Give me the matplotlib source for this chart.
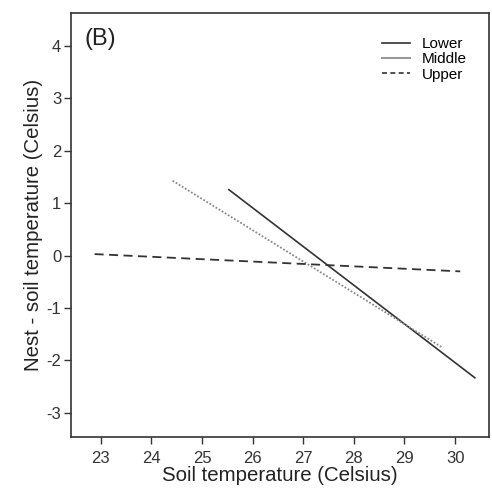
import matplotlib
matplotlib.use("Agg")
import matplotlib.pyplot as plt
from matplotlib.lines import Line2D

plt.rcParams['font.family'] = ['Liberation Sans', 'DejaVu Sans']
plt.rcParams['axes.unicode_minus'] = False

# regression line end points
groups = ["Lower", "Middle", "Upper"]
soil_x = {"Lower": [25.53, 30.39], "Middle": [24.42, 29.76], "Upper": [22.88, 30.10]}
diff_y = {"Lower": [1.26, -2.33], "Middle": [1.43, -1.76], "Upper": [0.03, -0.30]}

xticks = list(range(23, 31))
yticks = list(range(-3, 5))

styles = {
    "Lower": dict(color="#333333", linestyle="-", lw=1.2),
    "Middle": dict(color="#888888", linestyle=(0, (1, 1)), lw=1.3),
    "Upper": dict(color="#333333", linestyle=(0, (5, 3)), lw=1.3),
}

fig = plt.figure(figsize=(4.92, 4.93), dpi=100)
ax = fig.add_axes([0.144, 0.1136, 0.850, 0.860])

for g in groups:
    ax.plot(soil_x[g], diff_y[g], **styles[g])

ax.set_xlim(22.41, 30.67)
ax.set_ylim(-3.46, 4.63)
ax.set_xticks(xticks)
ax.set_yticks(yticks)
ax.tick_params(direction="out", length=5, width=1, labelsize=12, colors="#333333", pad=2)
ax.tick_params(axis="x", pad=5)
for s in ax.spines.values():
    s.set_color("#333333")
    s.set_linewidth(1.2)

ax.set_xlabel("Soil temperature (Celsius)", fontsize=14.7, labelpad=0, color="#222222")
ax.set_ylabel("Nest - soil temperature (Celsius)", fontsize=14.7, labelpad=2, color="#222222")
ax.text(0.033, 0.965, "(B)", transform=ax.transAxes, fontsize=17, va="top", ha="left", color="#222222")

handles = [
    Line2D([], [], color="#333333", lw=1.2),
    Line2D([], [], color="#999999", lw=1.5),
    Line2D([], [], color="#333333", lw=1.2, linestyle=(0, (3, 2))),
]
ax.legend(handles, groups, loc="upper right", frameon=False, fontsize=11,
          handlelength=1.85, handletextpad=0.75, labelspacing=0.08,
          borderaxespad=0, borderpad=0, bbox_to_anchor=(0.947, 0.943))

fig.savefig("out.png", dpi=100)
